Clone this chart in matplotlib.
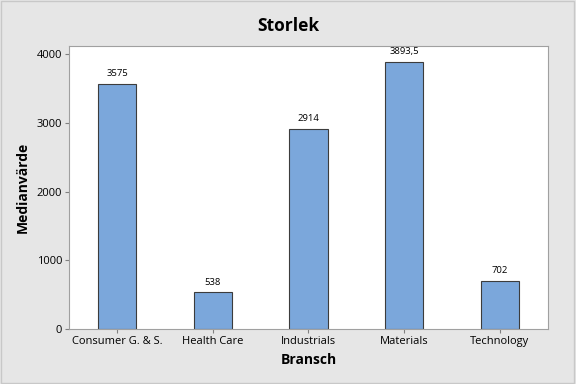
import matplotlib
matplotlib.use("Agg")
import matplotlib.pyplot as plt

plt.rcParams['font.family'] = ['Open Sans', 'DejaVu Sans']

# data
branscher = ['Consumer G. & S.', 'Health Care', 'Industrials', 'Materials', 'Technology']
median_values = [3575, 538, 2914, 3893.5, 702]
value_labels = ['3575', '538', '2914', '3893,5', '702']
yticks = [0, 1000, 2000, 3000, 4000]

bg = '#e6e6e6'
fig = plt.figure(figsize=(5.76, 3.84), dpi=100, facecolor=bg)
ax = fig.add_axes([0.12, 0.143, 0.831, 0.737])
ax.set_facecolor('white')

x = range(len(branscher))
bars = ax.bar(x, median_values, width=0.4, color='#7ba7db', edgecolor='#3c3c3c', linewidth=0.8)
for b, lbl in zip(bars, value_labels):
    ax.annotate(lbl, (b.get_x() + b.get_width() / 2, b.get_height()),
                xytext=(0, 4), textcoords='offset points',
                ha='center', va='bottom', fontsize=6.8)

ax.set_xlim(-0.5, 4.5)
ax.set_ylim(0, 4120)
ax.set_xticks(list(x))
ax.set_xticklabels(branscher, fontsize=8)
ax.set_yticks(yticks)
ax.set_yticklabels([str(t) for t in yticks], fontsize=8)
ax.tick_params(direction='out', length=3, color='#808080', pad=2)
for s in ax.spines.values():
    s.set_color('#a0a0a0')
    s.set_linewidth(0.8)

ax.set_xlabel('Bransch', fontsize=10, fontweight='bold', labelpad=4)
ax.set_ylabel('Medianvärde', fontsize=10, fontweight='bold', labelpad=5)
fig.suptitle('Storlek', fontsize=12.5, fontweight='bold', y=0.955)

# outer border
fig.patches.append(plt.Rectangle((0.002, 0.003), 0.995, 0.994, transform=fig.transFigure,
                                 fill=False, edgecolor='#c8c8c8', linewidth=1))

fig.savefig('out.png', dpi=100, facecolor=bg)
